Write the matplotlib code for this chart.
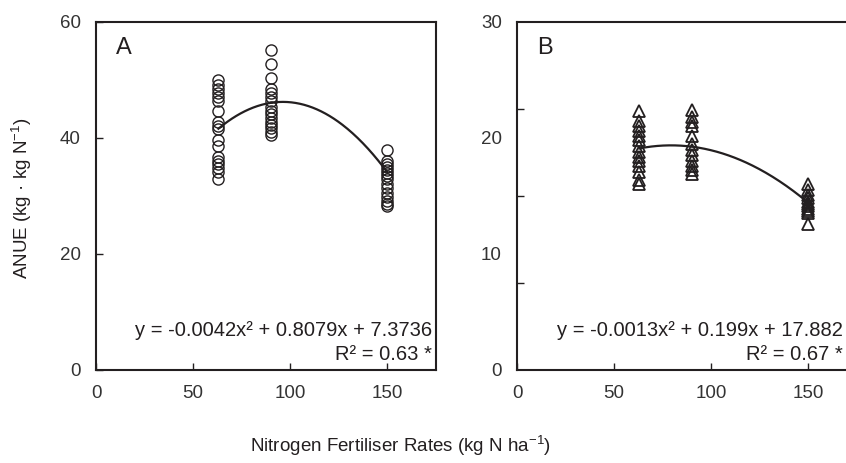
import numpy as np
import matplotlib
matplotlib.use("Agg")
import matplotlib.pyplot as plt
from matplotlib.transforms import blended_transform_factory

plt.rcParams['font.family'] = ['Liberation Sans', 'DejaVu Sans']
plt.rcParams['mathtext.fontset'] = 'custom'
plt.rcParams['mathtext.rm'] = 'Liberation Sans'
plt.rcParams['mathtext.it'] = 'Liberation Sans:italic'

# ---- data ----
rates = [63, 90, 150]

anue_a_63 = [50.0, 49.1, 48.4, 47.7, 47.0, 46.3, 44.7, 42.8, 42.1, 41.5,
             39.7, 38.6, 36.8, 36.1, 35.5, 34.8, 34.2, 33.0]
anue_a_90 = [55.1, 52.7, 50.4, 48.4, 47.7, 47.0, 46.3, 45.4, 44.7, 44.1,
             43.4, 42.8, 42.2, 41.7, 41.1, 40.5]
anue_a_150 = [38.0, 36.0, 35.5, 35.0, 34.5, 34.0, 33.4, 32.9, 32.1, 31.3,
              30.6, 29.9, 29.2, 28.7, 28.3]

anue_b_63 = [22.3, 21.5, 21.0, 20.6, 20.2, 19.8, 19.3, 18.8, 18.4, 18.0,
             17.6, 17.1, 16.4, 16.0]
anue_b_90 = [22.4, 21.8, 21.4, 21.0, 20.2, 19.5, 19.0, 18.5, 18.0, 17.6,
             17.2, 16.9]
anue_b_150 = [16.0, 15.5, 15.1, 14.8, 14.5, 14.3, 14.1, 13.9, 13.7, 13.5,
              12.6]

coef_a = [-0.0042, 0.8079, 7.3736]
coef_b = [-0.000993, 0.1575, 13.12]   # curve as drawn in the picture

eq_a = "y = -0.0042x² + 0.8079x + 7.3736"
r2_a = "R² = 0.63 *"
eq_b = "y = -0.0013x² + 0.199x + 17.882"
r2_b = "R² = 0.67 *"

xticks = [0, 50, 100, 150]
yticks_a = [0, 20, 40, 60]
yticks_b = [0, 10, 20, 30]
yminor_b = [7.5, 15, 22.5]

# ---- figure ----
W, H = 846, 463
fig = plt.figure(figsize=(W / 100, H / 100), dpi=100)
col = '#231f20'

def make_ax(left_px, right_px, top_px, bottom_px):
    return fig.add_axes([left_px / W, 1 - bottom_px / H,
                         (right_px - left_px) / W, (bottom_px - top_px) / H])

axA = make_ax(96, 436, 22, 370)
axB = make_ax(517, 857, 22, 370)

def style(ax, ymax, yt):
    ax.set_xlim(0, 175)
    ax.set_ylim(0, ymax)
    for s in ['left', 'bottom', 'top', 'right']:
        ax.spines[s].set_color(col)
        ax.spines[s].set_linewidth(1.5)
    ax.set_xticks(xticks)
    ax.set_yticks(yt)
    ax.tick_params(direction='in', length=5, width=1, colors=col,
                   labelsize=13.5, labelcolor='#333333')
    ax.tick_params(axis='x', pad=11)
    ax.tick_params(axis='y', pad=11)

def draw(ax, groups, marker, mew, coef, eq, r2, letter, ymax, yt, text_right_px):
    for x, vals in zip(rates, groups):
        ax.plot([x] * len(vals), vals, linestyle='none', marker=marker,
                markersize=8, markerfacecolor='none', markeredgecolor=col,
                markeredgewidth=mew, clip_on=False)
    xs = np.linspace(rates[0], rates[-1], 200)
    ax.plot(xs, np.polyval(coef, xs), color=col, lw=1.6)
    ax.text(0.083, 0.925, letter, transform=ax.transAxes, fontsize=17,
            color=col, ha='center', va='center')
    tr = blended_transform_factory(fig.transFigure, ax.transAxes)
    ax.text(text_right_px / W, (370 - 330) / 348, eq, transform=tr, fontsize=14.5,
            color=col, ha='right', va='center')
    ax.text(text_right_px / W, (370 - 354) / 348, r2, transform=tr, fontsize=14.5,
            color=col, ha='right', va='center')
    style(ax, ymax, yt)

draw(axA, [anue_a_63, anue_a_90, anue_a_150], 'o', 1.0, coef_a, eq_a, r2_a, 'A', 60,
     yticks_a, 432)
draw(axB, [anue_b_63, anue_b_90, anue_b_150], '^', 1.3, coef_b, eq_b, r2_b, 'B', 30,
     yticks_b, 843)
axB.yaxis.set_tick_params(which='major', length=0)
axB.set_yticks(yminor_b, minor=True)
axB.tick_params(axis='y', which='minor', direction='in', length=5, width=1, colors=col)

fig.text(22 / W, 1 - 198 / H, r'ANUE (kg · kg N$^{\mathregular{-1}}$)', rotation=90,
         ha='center', va='center', fontsize=13.5, color=col)
fig.text(400 / W, 1 - 446 / H, r'Nitrogen Fertiliser Rates (kg N ha$^{\mathregular{-1}}$)',
         ha='center', va='center', fontsize=13.5, color=col)

fig.savefig('out.png', dpi=100)
